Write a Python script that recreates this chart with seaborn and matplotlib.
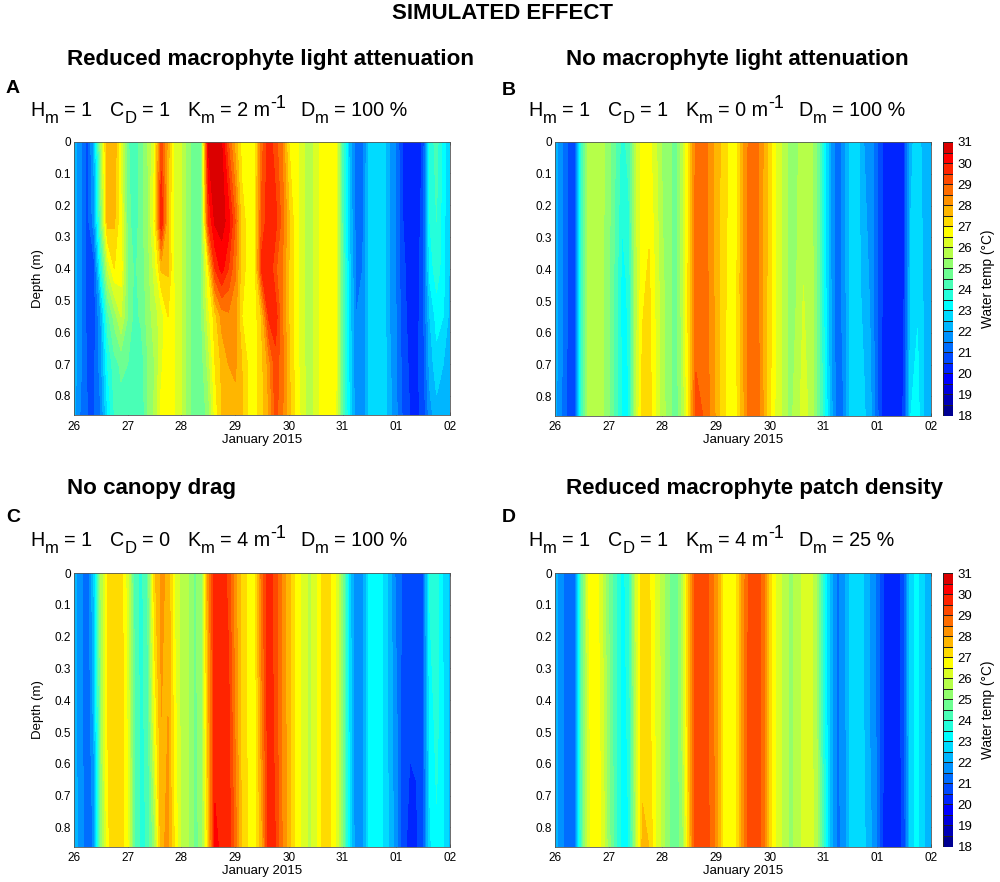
import numpy as np
import matplotlib
matplotlib.use("Agg")
import matplotlib.pyplot as plt
from matplotlib.colors import ListedColormap, BoundaryNorm
import seaborn as sns

# ── values, one row per depth, every 3 hours ──────────────────────────────
A_DEPTHS = [0, 0.25, 0.4, 0.55, 0.7, 0.86]
A_D0 = [22.2,21.6,20.8,22.2,25.5,28.0,28.0,26.3,24.6,24.0,24.8,25.5,26.5,29.2,27.8,26.2,26.0,25.2,24.6,25.0,30.6,30.7,30.5,29.0,27.8,26.8,26.7,27.0,28.8,29.8,29.2,28.5,27.0,26.7,26.2,25.6,26.2,26.8,26.8,26.6,24.3,22.4,21.2,21.3,22.7,23.0,22.9,22.0,21.4,20.4,20.0,20.1,20.6,23.7,24.2,23.3,22.4]
A_D1 = [22.2,21.6,20.8,21.8,24.8,27.8,27.6,26.6,24.8,24.1,24.8,25.4,26.8,30.0,27.5,26.3,26.0,25.2,24.6,24.9,29.5,30.6,30.7,30.3,29.0,27.2,26.8,27.0,29.2,29.8,29.7,28.8,27.6,26.7,26.2,25.6,26.2,26.8,26.8,26.6,24.3,22.5,21.3,21.4,22.7,23.0,22.9,22.0,21.4,20.5,20.2,20.2,20.7,23.5,24.0,23.2,22.4]
A_D2 = [22.2,21.6,20.8,20.8,23.5,26.0,27.0,26.8,25.0,24.4,24.7,25.3,26.2,27.6,27.6,26.3,26.0,25.2,24.6,25.0,27.0,29.5,30.2,29.5,28.6,27.2,26.8,27.0,29.7,30.0,29.1,28.5,27.5,26.7,26.2,25.7,26.2,26.8,26.8,26.6,24.4,22.7,21.4,21.5,22.7,23.0,22.9,22.0,21.4,20.6,20.3,20.3,20.8,23.2,23.8,23.2,22.4]
A_D3 = [22.2,21.6,20.8,20.8,22.0,24.3,25.2,26.0,25.0,24.3,24.6,25.2,25.8,26.2,27.0,26.5,26.0,25.2,24.6,25.0,26.3,27.3,28.2,28.4,28.2,27.0,26.8,26.8,27.6,29.6,29.8,28.6,27.5,26.8,26.2,25.7,26.2,26.8,26.8,26.6,24.4,22.8,21.5,21.6,22.7,23.0,22.9,22.0,21.5,20.7,20.3,20.3,20.8,22.5,23.2,23.0,22.3]
A_D4 = [22.2,21.6,20.9,20.9,21.8,23.5,24.3,24.6,24.5,24.0,24.2,25.0,25.5,26.4,26.9,26.5,26.0,25.2,24.6,24.8,25.7,27.0,27.6,28.0,28.1,27.5,26.9,26.8,27.4,28.2,29.3,28.7,27.6,26.8,26.2,25.7,26.2,26.8,26.8,26.6,24.4,22.9,21.6,21.6,22.7,23.0,22.9,22.1,21.5,20.8,20.4,20.4,20.8,22.2,22.8,22.5,22.2]
A_D5 = [22.2,21.4,21.0,21.0,21.5,23.0,24.0,24.3,24.4,24.0,24.1,25.0,25.6,26.7,26.8,26.5,26.0,25.2,24.6,24.7,25.2,26.7,27.5,27.7,27.8,27.6,26.9,26.8,27.3,28.0,29.2,28.6,27.7,26.9,26.3,25.7,26.2,26.7,26.7,26.5,24.5,23.0,21.6,21.5,22.6,23.0,22.9,22.2,21.6,20.9,20.5,20.4,20.6,21.8,22.3,22.3,22.2]
A_ROWS = [A_D0, A_D1, A_D2, A_D3, A_D4, A_D5]

BCD_DEPTHS = [0, 0.45, 0.86]
B_D0 = [22.2,21.6,20.9,20.9,24.2,25.7,25.7,25.7,25.2,24.5,23.8,24.2,25.9,26.8,26.7,26.1,25.4,25.2,24.7,25.8,27.2,28.7,28.9,28.3,27.8,27.3,26.9,26.8,27.9,28.7,28.8,28.0,27.2,26.4,25.9,25.3,25.4,25.8,25.8,25.0,23.5,22.0,21.2,21.7,22.6,22.7,22.0,21.8,21.0,20.3,20.1,20.1,20.5,22.4,22.7,22.3,22.1]
B_D1 = [22.2,21.6,20.9,20.9,24.2,25.7,25.7,25.6,25.1,24.3,23.3,23.6,25.7,26.9,27.1,26.4,25.6,25.2,24.7,25.8,27.3,28.8,28.9,28.4,27.8,27.2,26.8,26.9,28.0,28.8,28.8,27.9,27.2,26.4,25.9,25.3,25.5,26.0,25.9,25.0,23.5,22.1,21.2,21.7,22.6,22.7,22.3,21.9,21.0,20.3,20.1,20.1,20.5,22.6,22.9,22.4,22.1]
B_D2 = [22.2,21.5,20.8,21.0,24.1,25.7,25.7,25.6,25.1,24.2,23.4,23.5,25.8,27.2,27.3,26.5,25.7,25.2,24.7,25.6,27.3,29.1,29.0,28.5,27.9,27.1,26.8,26.9,27.8,28.9,28.9,28.0,27.1,26.3,25.9,25.3,25.8,26.2,25.9,25.0,23.8,22.3,21.2,21.5,22.6,22.7,22.6,22.1,21.1,20.2,20.1,20.1,20.6,23.0,23.2,22.4,22.1]
B_ROWS = [B_D0, B_D1, B_D2]

C_D0 = [22.2,21.7,21.0,22.6,25.5,27.0,27.3,27.3,26.2,24.3,23.8,24.6,27.4,28.1,27.9,26.4,25.8,25.5,24.9,25.3,28.2,29.8,29.9,29.3,28.2,27.3,26.9,26.9,28.8,29.9,29.2,28.4,27.7,26.9,26.3,25.9,26.2,27.1,27.1,26.5,25.0,22.8,21.5,21.8,23.2,23.3,23.0,22.3,21.3,20.9,20.7,20.7,21.0,23.6,23.8,22.9,22.4]
C_D1 = [22.2,21.7,21.0,22.2,25.3,27.0,27.3,27.3,26.4,24.5,23.8,24.3,26.6,28.0,28.0,26.7,25.8,25.5,24.9,25.2,27.8,29.8,29.9,29.7,28.4,27.3,26.9,26.8,28.4,29.9,29.3,28.4,27.7,26.9,26.3,25.9,26.2,27.1,27.1,26.5,25.0,22.9,21.5,21.8,23.2,23.3,23.0,22.3,21.6,20.7,20.6,20.6,20.9,23.2,23.7,23.0,22.4]
C_D2 = [22.2,21.8,21.1,21.6,25.0,26.9,27.3,27.3,26.6,24.5,23.8,24.1,25.4,27.9,28.1,26.9,25.9,25.5,24.9,25.1,27.4,30.1,29.9,29.8,28.8,27.4,26.9,26.8,27.9,29.8,29.5,28.5,27.7,26.9,26.3,25.9,26.2,27.1,27.1,26.5,25.0,23.0,21.6,21.8,23.2,23.3,23.0,22.4,21.7,20.7,20.3,20.4,20.9,22.9,23.4,23.0,22.4]
C_ROWS = [C_D0, C_D1, C_D2]

D_D0 = [22.2,21.7,21.0,21.1,24.6,26.5,26.9,26.0,25.0,24.1,23.3,23.8,26.0,27.3,27.1,26.3,25.8,25.0,24.6,25.7,27.8,29.4,29.4,28.9,28.3,27.0,26.8,26.9,28.2,29.2,29.4,28.7,27.3,26.3,25.9,25.4,25.6,26.2,26.3,25.5,23.6,22.3,21.4,21.7,22.6,22.7,22.5,21.9,21.4,20.4,20.2,20.2,20.8,22.9,23.1,22.5,22.1]
D_D1 = [22.2,21.7,21.0,21.1,24.5,26.4,26.9,26.3,25.1,24.1,23.3,23.6,25.8,27.3,27.2,26.4,25.8,25.0,24.6,25.7,27.7,29.4,29.4,28.9,28.3,27.0,26.8,26.9,28.2,29.4,29.5,28.7,27.3,26.3,25.9,25.4,25.6,26.2,26.3,25.5,23.7,22.3,21.4,21.7,22.6,22.7,22.5,21.9,21.4,20.4,20.2,20.2,20.8,22.9,23.1,22.5,22.1]
D_D2 = [22.2,21.7,21.0,21.2,24.4,26.3,26.9,26.4,25.2,24.2,23.3,23.5,25.6,27.6,27.5,26.5,25.8,25.0,24.6,25.3,27.5,29.4,29.4,29.0,28.3,27.0,26.8,26.9,28.2,29.4,29.5,28.7,27.3,26.3,25.9,25.4,25.6,26.2,26.3,25.7,24.1,22.4,21.4,21.6,22.6,22.7,22.6,22.1,21.4,20.3,20.2,20.2,20.7,22.9,23.1,22.5,22.1]
D_ROWS = [D_D0, D_D1, D_D2]

DAYS = np.arange(57) * 0.125
DAY_TICKS = [0, 1, 2, 3, 4, 5, 6, 7]
DAY_LABELS = ["26", "27", "28", "29", "30", "31", "01", "02"]
DEPTH_TICKS = [0, 0.1, 0.2, 0.3, 0.4, 0.5, 0.6, 0.7, 0.8]
DEPTH_LABELS = ["0", "0.1", "0.2", "0.3", "0.4", "0.5", "0.6", "0.7", "0.8"]
LEVELS = np.arange(18, 31.5, 0.5)

# MATLAB jet(26)
JET_26 = ["#000092", "#0000b6", "#0000db", "#0000ff", "#0024ff", "#0049ff",
          "#006dff", "#0092ff", "#00b6ff", "#00dbff", "#00ffff", "#24ffdb",
          "#49ffb6", "#6dff92", "#92ff6d", "#b6ff49", "#dbff24", "#ffff00",
          "#ffdb00", "#ffb600", "#ff9200", "#ff6d00", "#ff4900", "#ff2400",
          "#ff0000", "#db0000"]

PANELS = [
    ("A", "Reduced macrophyte light attenuation", ["1", "1", "2", "100 %"], A_DEPTHS, A_ROWS),
    ("B", "No macrophyte light attenuation", ["1", "1", "0", "100 %"], BCD_DEPTHS, B_ROWS),
    ("C", "No canopy drag", ["1", "0", "4", "100 %"], BCD_DEPTHS, C_ROWS),
    ("D", "Reduced macrophyte patch density", ["1", "1", "4", "25 %"], BCD_DEPTHS, D_ROWS),
]

sns.set_theme(style="ticks")
plt.rcParams["font.family"] = ["Liberation Sans", "DejaVu Sans"]

W, H = 1000, 882
palette = sns.color_palette(JET_26)
cmap = ListedColormap(palette)
norm = BoundaryNorm(LEVELS, cmap.N)

fig = plt.figure(figsize=(W / 100, H / 100), dpi=100, facecolor="white")
renderer = fig.canvas.get_renderer()


def px_axes(left, top, right, bottom):
    return fig.add_axes([left / W, 1 - bottom / H, (right - left) / W, (bottom - top) / H])


def px_text(x, y, s, **kw):
    return fig.text(x / W, 1 - y / H, s, color="black", **kw)


def param_run(x, y, main, sub, rest, sup=None):
    # main letter, lowered subscript, then the rest of the term and an optional exponent
    t = px_text(x, y, main, fontsize=14.2)
    x += t.get_window_extent(renderer).width + 0.5
    t = px_text(x, y + 7, sub, fontsize=12)
    x += t.get_window_extent(renderer).width + 5.5
    t = px_text(x, y, rest, fontsize=14.2)
    if sup:
        x += t.get_window_extent(renderer).width + 0.5
        px_text(x, y - 8, sup, fontsize=13)


px_text(502.5, 19, "SIMULATED EFFECT", ha="center", fontsize=16, fontweight="bold")

AX_BOXES = [(74, 141.5, 450, 415), (555, 142, 931, 415.5),
            (74, 573, 450, 846.5), (555, 573, 931, 846.5)]
TEXT_X = [30, 528, 30, 528]
TITLE_X = [67, 566, 67, 566]
TITLE_Y = [65, 65, 494, 494]
LETTER_X = [6, 502, 6, 502]
LETTER_Y = [93, 95, 522, 522]
PARAM_Y = [116, 116, 546, 546]
PARAM_OFFSETS = [0, 80, 157, 270]

for i, (letter, title, params, depths, rows) in enumerate(PANELS):
    left, top, right, bottom = AX_BOXES[i]
    ax = px_axes(left, top, right, bottom)
    ax.contourf(DAYS, depths, np.array(rows), levels=LEVELS, cmap=cmap, norm=norm,
                antialiased=False)
    ax.set_xlim(0, 7)
    ax.set_ylim(0.86, 0)
    ax.set_xticks(DAY_TICKS, DAY_LABELS)
    ax.set_yticks(DEPTH_TICKS, DEPTH_LABELS)
    ax.tick_params(direction="in", length=2.5, width=0.6, labelsize=8.5, top=True,
                   right=True, colors="#262626", labelcolor="black")
    ax.tick_params(axis="x", pad=4)
    ax.tick_params(axis="y", pad=2)
    for spine in ax.spines.values():
        spine.set_linewidth(0.6)
        spine.set_color("#555555")
    ax.set_xlabel("January 2015", fontsize=9.5, labelpad=1, color="black")
    if i % 2 == 0:
        ax.set_ylabel("Depth (m)", fontsize=9.5, labelpad=8, color="black")

    px_text(TITLE_X[i], TITLE_Y[i], title, fontsize=16.1, fontweight="bold")
    px_text(LETTER_X[i], LETTER_Y[i], letter, fontsize=14, fontweight="bold")
    x0 = TEXT_X[i]
    y0 = PARAM_Y[i]
    param_run(x0 + PARAM_OFFSETS[0], y0, "H", "m", f"= {params[0]}")
    param_run(x0 + PARAM_OFFSETS[1], y0, "C", "D", f"= {params[1]}")
    param_run(x0 + PARAM_OFFSETS[2], y0, "K", "m", f"= {params[2]} m", sup="-1")
    param_run(x0 + PARAM_OFFSETS[3], y0, "D", "m", f"= {params[3]}")

    # colour bar only on the right-hand panels, drawn as a one column heatmap
    if i % 2 == 1:
        cax = px_axes(943, top, 953.5, bottom)
        band = np.array(LEVELS[:-1] + 0.25)[::-1].reshape(-1, 1)
        sns.heatmap(band, ax=cax, cmap=cmap, norm=norm, cbar=False, linewidths=0.4,
                    linecolor="#222222", xticklabels=False, yticklabels=False)
        cax.yaxis.tick_right()
        cax.yaxis.set_label_position("right")
        cax.set_yticks(np.arange(0, 27, 2), [str(v) for v in range(31, 17, -1)],
                       rotation=0)
        cax.tick_params(length=0, labelsize=9.5, pad=3, labelcolor="black")
        cax.set_ylabel("Water temp (°C)", fontsize=9.8, labelpad=6, color="black")

fig.savefig("out.png", dpi=100, facecolor="white")
